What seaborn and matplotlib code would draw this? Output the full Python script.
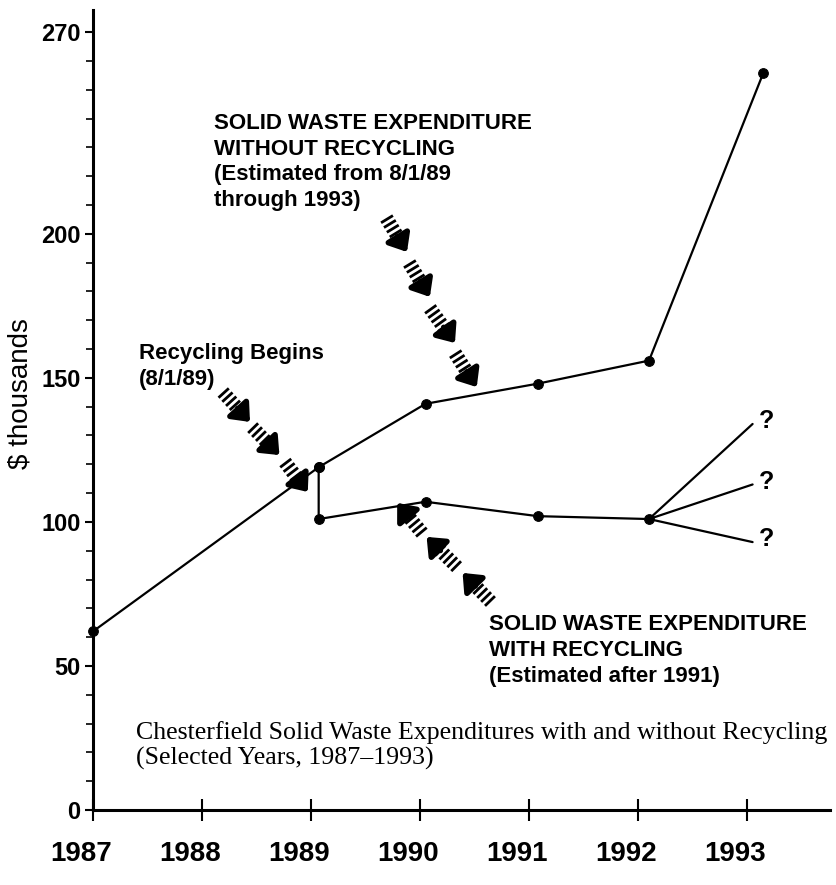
import numpy as np
import pandas as pd
import matplotlib
matplotlib.use('Agg')
import matplotlib.pyplot as plt
import matplotlib.transforms as mtransforms
import seaborn as sns

# data ($ thousands)
years_without = [1987, 1989.07, 1990.05, 1991.08, 1992.1, 1993.15]
spend_without = [62, 119, 141, 148, 156, 256]

years_with = [1989.07, 1989.07, 1990.05, 1991.08, 1992.1]
spend_with = [119, 101, 107, 102, 101]

branch_start_year = 1992.1
branch_start_value = 101
branch_end_year = 1993.05
branch_end_values = [134, 113, 93]

year_ticks = [1987, 1988, 1989, 1990, 1991, 1992, 1993]
value_ticks = [0, 50, 100, 150, 200, 270]

# hatched arrows: (tail, tip) in data coordinates
arrows_without = [((1989.69, 205.5), (1989.88, 193.7)),
                  ((1989.90, 189.9), (1990.09, 178.1)),
                  ((1990.09, 174.2), (1990.32, 162.1)),
                  ((1990.32, 158.6), (1990.52, 146.8))]
arrows_begin = [((1988.19, 145.1), (1988.44, 134.7)),
                ((1988.46, 132.9), (1988.71, 123.2)),
                ((1988.76, 120.8), (1988.97, 110.4))]
arrows_with = [((1990.02, 96.1), (1989.79, 106.6)),
               ((1990.34, 84.3), (1990.06, 94.8)),
               ((1990.65, 72.2), (1990.39, 82.3))]

sns.set_style('ticks', {'text.color': 'black', 'axes.labelcolor': 'black',
                        'xtick.color': 'black', 'ytick.color': 'black',
                        'axes.edgecolor': 'black'})
plt.rcParams['font.family'] = ['Liberation Sans', 'DejaVu Sans']

fig = plt.figure(figsize=(8.37, 8.85), dpi=100)
ax = fig.add_axes([93 / 837, 1 - 810 / 885, (830 - 93) / 837, 800 / 885])


def draw_hatched_arrow(ax, tail, tip):
    tail = np.array(tail)
    tip = np.array(tip)
    mid = tail + 0.55 * (tip - tail)
    ax.plot([tail[0], mid[0]], [tail[1], mid[1]], color='black', lw=10,
            dashes=(0.2, 0.2), dash_capstyle='butt', solid_capstyle='butt')
    ax.annotate('', xy=tip, xytext=mid,
                arrowprops=dict(arrowstyle='-|>,head_width=0.5,head_length=0.6',
                                lw=4, color='black', mutation_scale=16,
                                shrinkA=0, shrinkB=0))


df_without = pd.DataFrame({'year': years_without, 'spend': spend_without})
df_with = pd.DataFrame({'year': years_with, 'spend': spend_with})

sns.lineplot(data=df_without, x='year', y='spend', ax=ax, color='black', lw=1.6,
             marker='o', markersize=7, markeredgecolor='black', estimator=None, sort=False)
sns.lineplot(data=df_with, x='year', y='spend', ax=ax, color='black', lw=1.6,
             marker='o', markersize=7, markeredgecolor='black', estimator=None, sort=False)
for line in ax.lines:
    line.set_clip_on(False)
    line.set_zorder(3)

for end_value in branch_end_values:
    ax.plot([branch_start_year, branch_end_year], [branch_start_value, end_value],
            color='black', lw=1.6)
    ax.text(branch_end_year + 0.13, end_value + 1, '?', fontsize=18, fontweight='bold',
            ha='center', va='center')

for tail, tip in arrows_without + arrows_begin + arrows_with:
    draw_hatched_arrow(ax, tail, tip)

ax.text(1988.11, 242, 'SOLID WASTE EXPENDITURE\nWITHOUT RECYCLING\n(Estimated from 8/1/89\nthrough 1993)',
        fontsize=16, fontweight='bold', va='top', ha='left', linespacing=1.3)
ax.text(1987.42, 162, 'Recycling Begins\n(8/1/89)',
        fontsize=16, fontweight='bold', va='top', ha='left', linespacing=1.3)
ax.text(1990.63, 68, 'SOLID WASTE EXPENDITURE\nWITH RECYCLING\n(Estimated after 1991)',
        fontsize=16, fontweight='bold', va='top', ha='left', linespacing=1.3)
ax.text(1987.39, 31, 'Chesterfield Solid Waste Expenditures with and without Recycling\n(Selected Years, 1987\u20131993)',
        fontsize=18.6, family='Liberation Serif', va='top', ha='left', linespacing=1.2)

ax.set_xlim(1987, 1993.76)
ax.set_ylim(0, 277.7)
ax.set_xticks(year_ticks)
ax.set_xticklabels([str(y) for y in year_ticks])
ax.set_yticks(value_ticks)
ax.set_yticks(np.arange(0, 271, 10), minor=True)
ax.set_xlabel('')
ax.set_ylabel('$ thousands', fontsize=20)
ax.yaxis.set_label_coords(-0.081, 0.52)

ax.tick_params(axis='x', direction='inout', length=16, width=1.5, pad=14,
               labelsize=20)
ax.tick_params(axis='y', which='major', direction='out', length=6, width=1.5, pad=3,
               labelsize=17)
ax.tick_params(axis='y', which='minor', direction='out', length=5, width=1.2)
for lbl in ax.get_xticklabels() + ax.get_yticklabels():
    lbl.set_fontweight('bold')
shift = mtransforms.ScaledTranslation(-12 / 100, 0, fig.dpi_scale_trans)
for lbl in ax.get_xticklabels():
    lbl.set_transform(lbl.get_transform() + shift)

sns.despine(ax=ax)
ax.spines['left'].set_linewidth(2.2)
ax.spines['bottom'].set_linewidth(2.2)

fig.savefig('out.png', dpi=100)
